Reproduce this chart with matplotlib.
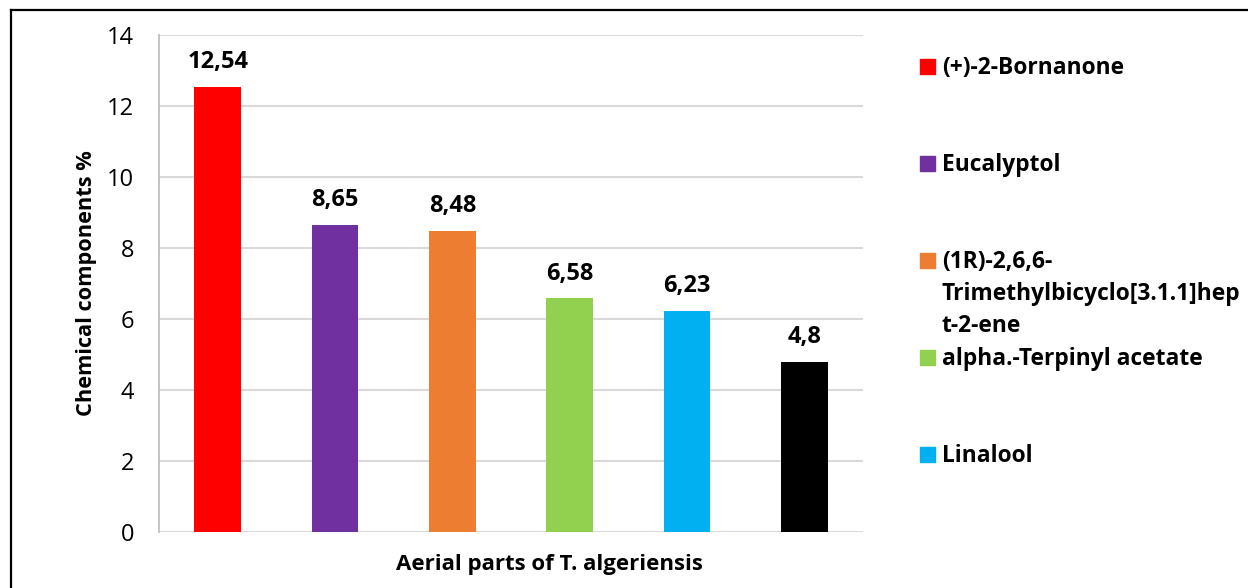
import matplotlib.pyplot as plt
from matplotlib.lines import Line2D
from matplotlib.patches import Rectangle

plt.rcParams['font.family'] = ['Open Sans', 'DejaVu Sans']

# composition of the essential oil (main components)
values = [12.54, 8.65, 8.48, 6.58, 6.23, 4.8]
value_labels = ['12,54', '8,65', '8,48', '6,58', '6,23', '4,8']
colors = ['#FF0000', '#7030A0', '#ED7D31', '#92D050', '#00B0F0', '#000000']
legend_names = ['(+)-2-Bornanone', 'Eucalyptol',
                '(1R)-2,6,6-\nTrimethylbicyclo[3.1.1]hep\nt-2-ene',
                'alpha.-Terpinyl acetate', 'Linalool']
yticks = [0, 2, 4, 6, 8, 10, 12, 14]

W, H = 1248, 588
fig = plt.figure(figsize=(W / 100, H / 100), dpi=100)
ax = fig.add_axes([159 / W, 1 - 532 / H, 704 / W, 497 / H])

x = list(range(len(values)))
bars = ax.bar(x, values, width=0.4, color=colors, zorder=3)
for xi, v, lab in zip(x, values, value_labels):
    ax.annotate(lab, (xi, v), xytext=(0, 13.5), textcoords='offset points',
                ha='center', va='baseline', fontsize=17, fontweight='bold')

ax.set_xlim(-0.5, len(values) - 0.5)
ax.set_ylim(0, 14)
ax.set_yticks(yticks)
ax.set_yticklabels([str(t) for t in yticks], fontsize=17)
ax.tick_params(axis='y', length=0, pad=18)
ax.set_xticks([])
ax.grid(axis='y', color='#D9D9D9', linewidth=1.5, zorder=0)
for side in ['top', 'right', 'bottom']:
    ax.spines[side].set_visible(False)
ax.spines['left'].set_color('#BFBFBF')
ax.spines['left'].set_linewidth(1.3)

ax.set_ylabel('Chemical components %', fontsize=15.7, fontweight='bold')
ax.yaxis.set_label_coords(-0.088, 0.5)
ax.set_xlabel('Aerial parts of T. algeriensis', fontsize=16, fontweight='bold')
ax.xaxis.set_label_coords(0.554, -0.045)

# legend drawn entry by entry
for i, name in enumerate(legend_names):
    yc = 66 + i * 97
    fig.patches.append(Rectangle((920 / W, 1 - (yc + 7.5) / H), 15 / W, 15 / H,
                                 transform=fig.transFigure, color=colors[i]))
    fig.text(942 / W, 1 - (yc - 10) / H, name, fontsize=16.4, fontweight='bold',
             ha='left', va='top', linespacing=1.45)

# outer frame (top and left edges)
fig.lines.append(Line2D([11 / W, 1], [1 - 10 / H, 1 - 10 / H],
                        transform=fig.transFigure, color='black', linewidth=1.6))
fig.lines.append(Line2D([11 / W, 11 / W], [0, 1 - 10 / H],
                        transform=fig.transFigure, color='black', linewidth=1.6))

fig.savefig('out.png', dpi=100)
